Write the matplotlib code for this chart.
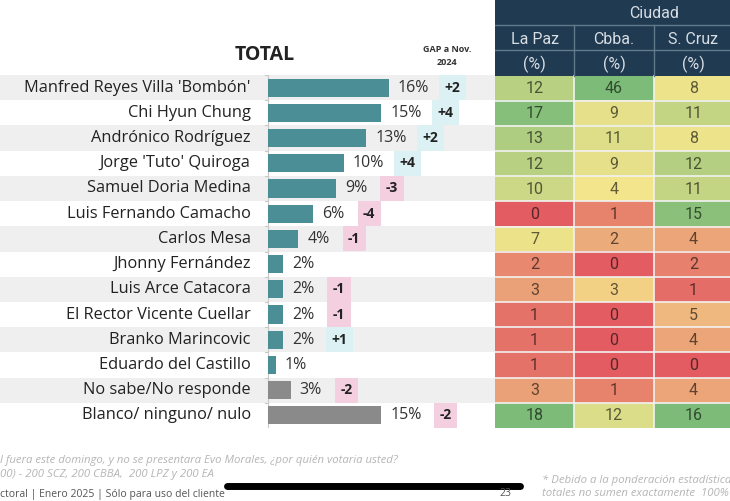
import matplotlib
matplotlib.use("Agg")
import matplotlib.pyplot as plt
import numpy as np
from matplotlib.colors import LinearSegmentedColormap, TwoSlopeNorm
from matplotlib.patches import Rectangle
from matplotlib.lines import Line2D

plt.rcParams['font.family'] = ['Open Sans', 'DejaVu Sans']

# data
names = ["Manfred Reyes Villa 'Bombón'", "Chi Hyun Chung", "Andrónico Rodríguez",
         "Jorge 'Tuto' Quiroga", "Samuel Doria Medina", "Luis Fernando Camacho",
         "Carlos Mesa", "Jhonny Fernández", "Luis Arce Catacora",
         "El Rector Vicente Cuellar", "Branko Marincovic", "Eduardo del Castillo",
         "No sabe/No responde", "Blanco/ ninguno/ nulo"]
total = [16, 15, 13, 10, 9, 6, 4, 2, 2, 2, 2, 1, 3, 15]
gap = [2, 4, 2, 4, -3, -4, -1, None, -1, -1, 1, None, -2, -2]
cities = ["La Paz", "Cbba.", "S. Cruz"]
la_paz = [12, 17, 13, 12, 10, 0, 7, 2, 3, 1, 1, 1, 3, 18]
cbba = [46, 9, 11, 9, 4, 1, 2, 0, 3, 0, 0, 0, 1, 12]
s_cruz = [8, 11, 8, 12, 11, 15, 4, 2, 1, 5, 4, 0, 4, 16]

W, H = 730, 501
fig = plt.figure(figsize=(W / 100, H / 100), dpi=100)


def px_axes(x0, y0, x1, y1):
    return fig.add_axes([x0 / W, 1 - y1 / H, (x1 - x0) / W, (y1 - y0) / H])


# ---- left part: bars ----
ax = px_axes(0, 75, 495, 428)
scale = 7.55  # px per %
ax.set_xlim(-268 / scale, (495 - 268) / scale)
ax.set_ylim(len(names) - 0.5, -0.5)
ax.axis('off')

rows = np.arange(len(names))
for i in rows[::2]:
    ax.axhspan(i - 0.5, i + 0.5, color='#efefef', zorder=0, lw=0)

bar_colors = ['#4b8e95'] * 12 + ['#8a8a8a'] * 2
ax.barh(rows, total, height=0.72, color=bar_colors, zorder=2)

# faint axis line with small ticks
ax.axvline(0, color='#c8c8c8', lw=0.8, zorder=1)
for b in np.arange(-0.5, len(names), 1):
    ax.plot([-0.4, 0], [b, b], color='#c8c8c8', lw=0.8, zorder=1)

for i, (n, v, g) in enumerate(zip(names, total, gap)):
    ax.text(-2.3, i, n, ha='right', va='center', fontsize=11.8, color='#222222')
    ax.annotate(f'{v}%', (v, i), xytext=(9, 0), textcoords='offset pixels',
                ha='left', va='center', fontsize=11.5, color='#333333')
    if g is not None:
        off = 64 if v >= 10 else 56
        fc = '#dcf1f3' if g > 0 else '#f3cfe0'
        ax.annotate(f'{g:+d}', (v, i), xytext=(off, 0), textcoords='offset pixels',
                    ha='center', va='center', fontsize=10, fontweight='bold',
                    color='#222222',
                    bbox=dict(boxstyle='square,pad=0.4', fc=fc, ec='none'))

fig.text(265 / W, 1 - 55 / H, 'TOTAL', ha='center', va='center',
         fontsize=14, fontweight='bold', color='#222222')
fig.text(447 / W, 1 - 56 / H, 'GAP a Nov.\n2024', ha='center', va='center',
         fontsize=6.5, fontweight='bold', color='#333333', linespacing=1.5)

# ---- right part: heatmap table ----
tx = px_axes(495, 0, 733, 428)
tx.set_xlim(0, 3)
tx.set_ylim(len(names), -3)
tx.axis('off')

cmap = LinearSegmentedColormap.from_list('ryg', ['#e25c62', '#f5e68c', '#7cbc78'])
table = np.array([la_paz, cbba, s_cruz]).T
rgb = np.zeros(table.shape + (3,))
for j in range(3):
    col = table[:, j]
    norm = TwoSlopeNorm(vmin=col.min(), vcenter=np.median(col) + 1, vmax=col.max())
    rgb[:, j, :] = cmap(norm(col))[:, :3]
tx.imshow(rgb, extent=(0, 3, len(names), 0), aspect='auto', interpolation='nearest')

for j in range(1, 3):
    tx.plot([j, j], [0, len(names)], color='#f2f2f2', lw=1.2)
for i in range(1, len(names)):
    tx.plot([0, 3], [i, i], color='#f2f2f2', lw=1.2)

for i in range(len(names)):
    for j in range(3):
        tc = rgb[i, j] * 0.4
        tx.text(j + 0.5, i + 0.52, str(table[i, j]), ha='center', va='center',
                fontsize=11.5, color=tc, family=['Roboto', 'DejaVu Sans'])

navy = '#1f3a51'
tx.add_patch(Rectangle((0, -3), 3, 3, color=navy, lw=0))
for yy in (-2, -1):
    tx.plot([0, 3], [yy, yy], color='#62788b', lw=1)
for j in range(1, 3):
    tx.plot([j, j], [-2, 0], color='#62788b', lw=1)
head_c = '#d8dde3'
tx.text(2.0, -2.45, 'Ciudad', ha='center', va='center', fontsize=11.5,
        color=head_c, family=['Roboto', 'DejaVu Sans'])
for j, c in enumerate(cities):
    tx.text(j + 0.5, -1.45, c, ha='center', va='center', fontsize=11.5,
            color=head_c, family=['Roboto', 'DejaVu Sans'])
    tx.text(j + 0.5, -0.45, '(%)', ha='center', va='center', fontsize=11.5,
            color=head_c, family=['Roboto', 'DejaVu Sans'])

# ---- footer ----
foot_c = '#b5b5b5'
fig.text(0, 1 - 460 / H, 'l fuera este domingo, y no se presentara Evo Morales, ¿por quién votaria usted?',
         ha='left', va='center', fontsize=8.2, style='italic', color=foot_c)
fig.text(0, 1 - 475 / H, '00) - 200 SCZ, 200 CBBA,  200 LPZ y 200 EA',
         ha='left', va='center', fontsize=8.2, style='italic', color=foot_c)
fig.text(0, 1 - 494 / H, 'ctoral | Enero 2025 | Sólo para uso del cliente',
         ha='left', va='center', fontsize=7.5, color='#555555')
fig.text(505 / W, 1 - 494 / H, '23', ha='center', va='center', fontsize=7.5, color='#555555')
fig.text(542 / W, 1 - 480 / H, '* Debido a la ponderación estadística',
         ha='left', va='center', fontsize=8.2, style='italic', color=foot_c)
fig.text(542 / W, 1 - 494 / H, 'totales no sumen exactamente  100%',
         ha='left', va='center', fontsize=8.2, style='italic', color=foot_c)
fig.add_artist(Line2D([227 / W, 520 / W], [1 - 486 / H] * 2, lw=5,
                      color='black', solid_capstyle='round'))

fig.savefig('out.png', dpi=100)
